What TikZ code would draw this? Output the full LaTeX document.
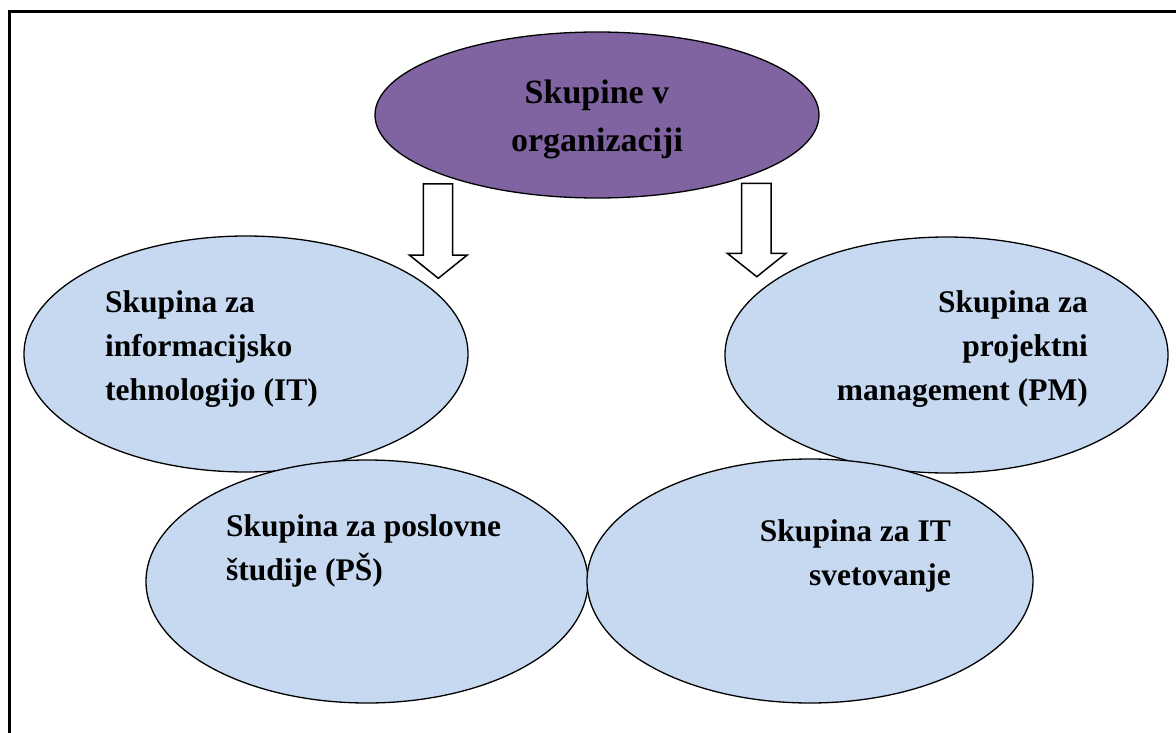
\documentclass[tikz,border=0pt]{standalone}
\usepackage{fontspec}
\setmainfont{Liberation Serif}
\usetikzlibrary{shapes.geometric}
\definecolor{topfill}{HTML}{8064A2}
\definecolor{bluefill}{HTML}{C6D9F1}
\begin{document}
\begin{tikzpicture}[x=1pt,y=-1pt,
  blob/.style={ellipse, draw=black, line width=1.3pt, inner sep=0pt},
  lbl/.style={inner sep=0pt, font=\fontsize{31.5}{44}\selectfont\bfseries},
  toplbl/.style={inner sep=0pt, font=\fontsize{34}{48.5}\selectfont\bfseries},
  blockarrow/.style={draw=black, fill=white, line width=1.5pt, line join=miter}]
\useasboundingbox (0,0) rectangle (1176,733);
\draw[line width=3pt] (9.5,733) -- (9.5,11.3) -- (1176,11.3);

\node[blob, fill=topfill, minimum width=444pt, minimum height=166pt] (top) at (597,115) {};
\node[blob, fill=bluefill, minimum width=444pt, minimum height=236pt] (it) at (246,354) {};
\node[blob, fill=bluefill, minimum width=443pt, minimum height=236pt] (pm) at (946.5,355) {};
\node[blob, fill=bluefill, minimum width=442pt, minimum height=243pt] (ps) at (367,581.5) {};
\node[blob, fill=bluefill, minimum width=446pt, minimum height=244pt] (sv) at (810,581) {};

\draw[blockarrow] (423.3,184) -- (452.7,184) -- (452.7,255) -- (467.3,255) -- (438.3,278.3) -- (409.3,255) -- (423.3,255) -- cycle;
\draw[blockarrow] (741.7,183.3) -- (771,183.3) -- (771,253.3) -- (786,253.3) -- (756.8,276.7) -- (727.3,253.3) -- (741.7,253.3) -- cycle;

\node[toplbl, align=center, anchor=base] (topT) at (597,151.7) {Skupine v\\organizaciji};
\node[lbl, align=left, anchor=base west] (itT) at (105,400) {Skupina za\\informacijsko\\tehnologijo (IT)};
\node[lbl, align=right, anchor=base east] (pmT) at (1088,400) {Skupina za\\projektni\\management (PM)};
\node[lbl, align=left, anchor=base west] (psT) at (226,580.7) {Skupina za poslovne\\študije (PŠ)};
\node[lbl, align=right, anchor=base east] (svT) at (951,585) {Skupina za IT\\svetovanje};
\end{tikzpicture}
\end{document}
